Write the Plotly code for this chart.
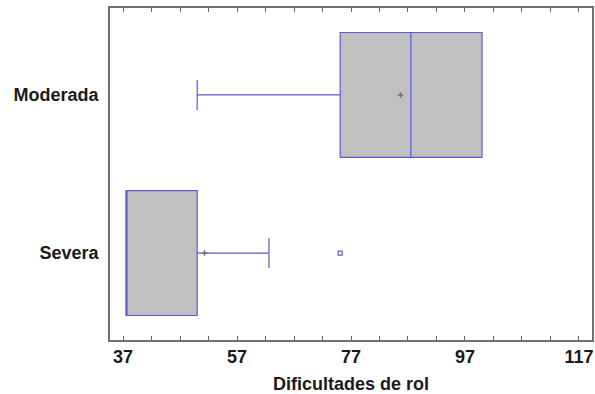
import plotly.graph_objects as go

# Data
categories = ["Moderada", "Severa"]
q1 = [75.1, 37.5]
median = [87.5, 37.5]
q3 = [100.0, 50.0]
lower_fence = [50.0, 37.5]
upper_fence = [100.0, 62.6]
means = [85.7, 51.3]
outlier_cat = ["Severa"]
outlier_val = [75.1]

tick_vals = [37, 57, 77, 97, 117]
x_title = "Dificultades de rol"

line_col = "#5a5ad2"
fill_col = "#c0c0c0"
font_fam = "Arial, Liberation Sans, sans-serif"

fig = go.Figure()
fig.add_trace(go.Box(
    y=categories, q1=q1, median=median, q3=q3,
    lowerfence=lower_fence, upperfence=upper_fence,
    orientation="h", boxpoints=False,
    fillcolor=fill_col, line=dict(color=line_col, width=1.2),
    width=0.79, whiskerwidth=0.24, showlegend=False, hoverinfo="skip",
))
fig.add_trace(go.Scatter(
    x=means, y=categories, mode="markers",
    marker=dict(symbol="cross-thin", size=4, line=dict(color="#7a6a7a", width=1.5)),
    showlegend=False,
))
fig.add_trace(go.Scatter(
    x=outlier_val, y=outlier_cat, mode="markers",
    marker=dict(symbol="square-open", size=4, color=line_col, line=dict(width=1.2, color=line_col)),
    showlegend=False,
))

fig.update_layout(
    width=595, height=394,
    margin=dict(l=110, r=3, t=8, b=54, autoexpand=False),
    paper_bgcolor="white", plot_bgcolor="white",
    font=dict(family=font_fam, size=18, color="#1a1a1a"),
    xaxis=dict(
        range=[34.7, 119.3], tickvals=tick_vals, ticktext=[str(v) for v in tick_vals],
        ticks="inside", ticklen=4, tickcolor="#666", tickwidth=1,
        minor=dict(dtick=5, tick0=37, ticks="inside", ticklen=4, tickcolor="#666"),
        showline=True, linecolor="#707070", linewidth=1.5, mirror="ticks",
        showgrid=False, zeroline=False, automargin=False,
        tickfont=dict(family=font_fam, size=18, color="#1a1a1a", weight="bold"),
        title=dict(text="<b>" + x_title + "</b>", font=dict(family=font_fam, size=18, color="#1a1a1a"), standoff=12),
    ),
    yaxis=dict(
        type="category", categoryorder="array", categoryarray=categories[::-1],
        range=[-0.55, 1.55], ticks="", showline=True, linecolor="#707070", linewidth=1.5,
        mirror=True, showgrid=False, zeroline=False, ticklabelstandoff=6, automargin=False,
        tickfont=dict(family=font_fam, size=18, color="#1a1a1a", weight="bold"),
    ),
)

fig.write_html("out.html", config={"displayModeBar": False},
               post_script="document.body.style.margin='0';")
